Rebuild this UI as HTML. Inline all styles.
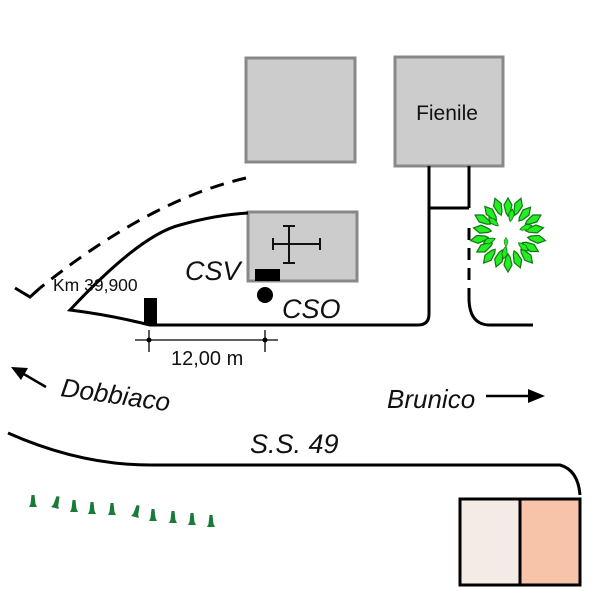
<!DOCTYPE html>
<html><head><meta charset="utf-8"><style>
html,body{margin:0;padding:0;background:#fff;}
svg{display:block;}
text{font-family:"Liberation Sans",sans-serif;}
</style></head><body>
<svg width="600" height="600" viewBox="0 0 600 600" xmlns="http://www.w3.org/2000/svg">
<defs>
<path id="leaf" d="M0,-9 L4,-2 L2,6 L0,9 L-2,6 L-4,-2 Z" fill="#22ee22" stroke="#117711" stroke-width="1.2"/>
<path id="tree" d="M-1.5,-12 L1.5,-12 L2.5,-3 L4,0 L-4,0 L-2.5,-3 Z" fill="#1a7a3a"/>
</defs>
<rect x="246" y="58" width="109" height="104" fill="#cccccc" stroke="#888" stroke-width="3"/>
<rect x="395" y="57" width="108" height="109" fill="#cccccc" stroke="#888" stroke-width="3"/>
<text x="447" y="120" font-size="21" text-anchor="middle" fill="#111">Fienile</text>
<rect x="248" y="212" width="109" height="69" fill="#cccccc" stroke="#888" stroke-width="3"/>
<g stroke="#111" stroke-width="2" fill="none">
<line x1="289" y1="226" x2="289" y2="263"/>
<line x1="273" y1="244" x2="320" y2="244"/>
<line x1="283" y1="226" x2="295" y2="226"/>
<line x1="283" y1="263" x2="295" y2="263"/>
<line x1="273" y1="238" x2="273" y2="250"/>
<line x1="320" y1="238" x2="320" y2="250"/>
</g>
<g stroke="#000" stroke-width="3" fill="none">
<line x1="429" y1="166" x2="429" y2="208"/>
<line x1="469" y1="166" x2="469" y2="208"/>
<line x1="429" y1="208" x2="469" y2="208"/>
<path d="M429,208 L429,314 Q429,325 418,325 L150,325 Q110,315 70,310 Q140,235 180,225 Q215,215 248,213"/>
<path d="M469,300 Q470,325 490,325 L533,325"/>
<path d="M469,228 L469,300" stroke-dasharray="12,8"/>
<path d="M246,178 Q150,200 40,288" stroke-dasharray="14,9"/>
<path d="M15,288 L30,297 L40,288"/>
<path d="M8,433 Q80,465 150,465 L560,465 Q578,470 580,495"/>
</g>
<rect x="144" y="298" width="13" height="27" fill="#000"/>
<rect x="255" y="269" width="25" height="12" fill="#000"/>
<circle cx="265" cy="295" r="8" fill="#000"/>
<text x="53" y="291" font-size="17.5" fill="#111">Km 39,900</text>
<text x="185" y="280" font-size="27" font-style="italic" fill="#111">CSV</text>
<text x="282" y="318" font-size="27" font-style="italic" fill="#111">CSO</text>
<g stroke="#000" stroke-width="1.3">
<line x1="135" y1="340" x2="278" y2="340"/>
<line x1="149" y1="330" x2="149" y2="352"/>
<line x1="265" y1="330" x2="265" y2="352"/>
</g>
<circle cx="149" cy="340" r="2.5"/><circle cx="265" cy="340" r="2.5"/>
<text x="171" y="365" font-size="20" fill="#111">12,00 m</text>
<line x1="46" y1="387" x2="22" y2="373" stroke="#000" stroke-width="2.5"/>
<path d="M11,367 L28,368 L21,380 Z" fill="#000"/>
<text x="60" y="396" font-size="26" font-style="italic" fill="#111" transform="rotate(8 60 396)">Dobbiaco</text>
<text x="387" y="408" font-size="26" font-style="italic" fill="#111">Brunico</text>
<line x1="486" y1="396" x2="530" y2="396" stroke="#000" stroke-width="2.5"/>
<path d="M545,396 L528,389 L528,403 Z" fill="#000"/>
<text x="250" y="453" font-size="27" font-style="italic" fill="#111">S.S. 49</text>
<use href="#tree" x="33" y="507"/><use href="#tree" x="55" y="508" transform="rotate(15 55 508)"/><use href="#tree" x="74" y="512"/>
<use href="#tree" x="92" y="514"/><use href="#tree" x="112" y="515"/><use href="#tree" x="135" y="517" transform="rotate(15 135 517)"/>
<use href="#tree" x="153" y="521"/><use href="#tree" x="173" y="523"/><use href="#tree" x="192" y="525"/>
<use href="#tree" x="211" y="527"/>
<rect x="460" y="499" width="60" height="86" fill="#f5ebe6" stroke="#000" stroke-width="3"/>
<rect x="520" y="499" width="60" height="86" fill="#f7c4aa" stroke="#000" stroke-width="3"/>
<g transform="translate(508,234)">
<use href="#leaf" transform="rotate(0) translate(0,-27)"/>
<use href="#leaf" transform="rotate(20) translate(0,-29)"/>
<use href="#leaf" transform="rotate(40) translate(0,-26)"/>
<use href="#leaf" transform="rotate(60) translate(0,-29)"/>
<use href="#leaf" transform="rotate(80) translate(0,-27)"/>
<use href="#leaf" transform="rotate(100) translate(0,-29)"/>
<use href="#leaf" transform="rotate(120) translate(0,-26)"/>
<use href="#leaf" transform="rotate(140) translate(0,-29)"/>
<use href="#leaf" transform="rotate(160) translate(0,-27)"/>
<use href="#leaf" transform="rotate(180) translate(0,-29)"/>
<use href="#leaf" transform="rotate(200) translate(0,-26)"/>
<use href="#leaf" transform="rotate(220) translate(0,-29)"/>
<use href="#leaf" transform="rotate(240) translate(0,-27)"/>
<use href="#leaf" transform="rotate(260) translate(0,-29)"/>
<use href="#leaf" transform="rotate(280) translate(0,-26)"/>
<use href="#leaf" transform="rotate(300) translate(0,-29)"/>
<use href="#leaf" transform="rotate(320) translate(0,-27)"/>
<use href="#leaf" transform="rotate(340) translate(0,-29)"/>
<use href="#leaf" transform="rotate(10) translate(0,-19) scale(0.7)"/>
<use href="#leaf" transform="rotate(70) translate(0,-19) scale(0.7)"/>
<use href="#leaf" transform="rotate(130) translate(0,-20) scale(0.7)"/>
<use href="#leaf" transform="rotate(190) translate(0,-19) scale(0.7)"/>
<use href="#leaf" transform="rotate(250) translate(0,-20) scale(0.7)"/>
<use href="#leaf" transform="rotate(310) translate(0,-19) scale(0.7)"/>
<use href="#leaf" transform="translate(-2,8) scale(0.5)"/>
</g>
</svg>
</body></html>
